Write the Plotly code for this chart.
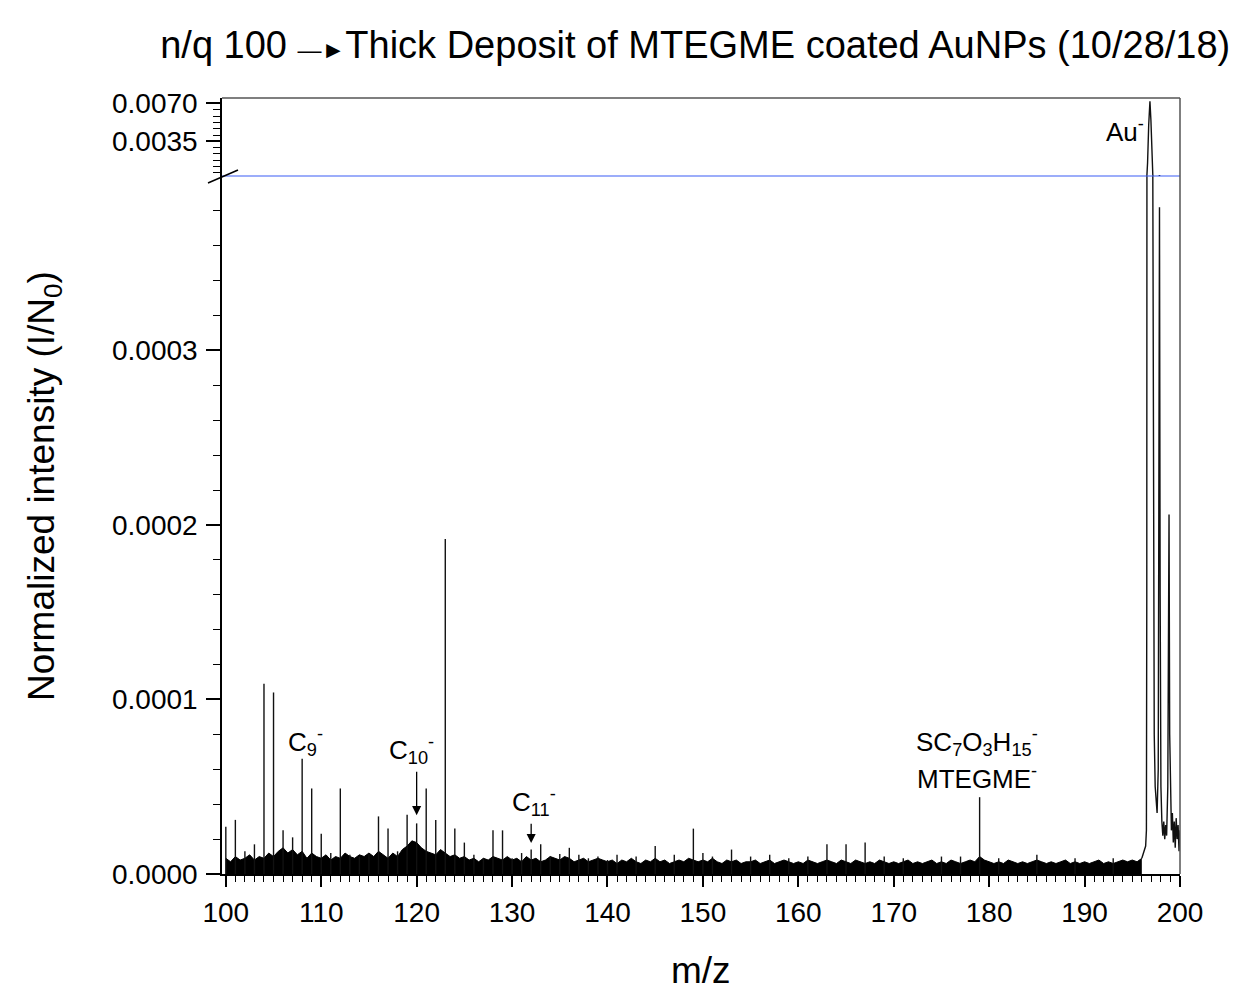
import plotly.graph_objects as go

# ---------------- data ----------------
# discrete peaks (m/z, normalized intensity)
stick_mz = [100, 101, 102, 103, 104, 105, 106, 107, 108, 109, 110, 111, 112, 113, 114,
            115, 116, 117, 118, 119, 120, 121, 122, 123, 124, 125, 126, 127, 128, 129,
            130, 131, 132, 133, 134, 135, 136, 137, 138, 139, 140, 141, 143, 145, 147,
            149, 150, 151, 153, 155, 157, 159, 161, 163, 165, 167, 169, 171, 175, 177,
            179, 181, 185, 189, 193]
stick_int = [2.7e-5, 3.1e-5, 1.3e-5, 1.7e-5, 1.09e-4, 1.04e-4, 2.5e-5, 2.1e-5, 6.6e-5, 4.9e-5,
             2.3e-5, 1.2e-5, 4.9e-5, 1.1e-5, 1.0e-5, 1.2e-5, 3.3e-5, 2.6e-5, 1.3e-5, 3.4e-5,
             2.9e-5, 4.9e-5, 3.1e-5, 1.92e-4, 2.6e-5, 1.8e-5, 1.1e-5, 9e-6, 2.5e-5, 2.5e-5,
             9e-6, 1.2e-5, 1.4e-5, 1.7e-5, 1.0e-5, 1.15e-5, 1.5e-5, 1.1e-5, 9e-6, 1.0e-5,
             8e-6, 1.1e-5, 1.0e-5, 1.6e-5, 1.1e-5, 2.6e-5, 1.2e-5, 1.0e-5, 1.4e-5, 1.0e-5,
             1.1e-5, 9e-6, 1.0e-5, 1.7e-5, 1.7e-5, 1.8e-5, 1.0e-5, 9e-6, 1.0e-5, 1.0e-5,
             4.4e-5, 9e-6, 1.1e-5, 9e-6, 9e-6]

# baseline noise envelope, every 0.5 m/z from 100.0 to 196.0 (units of 1e-6)
noise_start_mz = 100.0
noise_step_mz = 0.5
noise_top_1e6 = [9, 7, 10, 8, 9, 11, 8, 10, 9, 12,
                 10, 13, 15, 12, 14, 11, 13, 9, 12, 10,
                 9, 11, 8, 10, 9, 12, 10, 9, 11, 10,
                 12, 10, 13, 11, 9, 12, 10, 14, 16, 19,
                 18, 15, 13, 12, 11, 14, 12, 10, 11, 9,
                 10, 8, 9, 7, 9, 8, 10, 9, 8, 10,
                 8, 9, 7, 10, 8, 9, 7, 8, 10, 9,
                 8, 10, 9, 7, 8, 9, 7, 8, 9, 8,
                 7, 8, 6, 8, 7, 9, 7, 6, 8, 7,
                 9, 7, 8, 6, 7, 8, 7, 9, 8, 7,
                 8, 7, 9, 7, 6, 8, 7, 8, 6, 7,
                 7, 8, 6, 7, 8, 6, 7, 8, 7, 6,
                 7, 6, 8, 7, 6, 7, 8, 7, 6, 8,
                 7, 6, 8, 7, 6, 7, 6, 8, 7, 6,
                 7, 6, 7, 8, 6, 7, 6, 7, 8, 6,
                 7, 6, 8, 7, 6, 7, 8, 7, 10, 8,
                 7, 6, 7, 6, 8, 7, 6, 7, 6, 7,
                 8, 7, 6, 7, 6, 7, 8, 6, 7, 6,
                 7, 6, 7, 8, 6, 7, 6, 7, 8, 7,
                 8, 7, 9]

# Au- region profile
au_mz = [196.00, 196.20, 196.40, 196.48, 196.52, 196.60, 196.72, 196.85, 196.95, 197.05,
         197.15, 197.22, 197.30, 197.40, 197.50, 197.60, 197.72, 197.78, 197.85, 197.92,
         198.00, 198.10, 198.20, 198.30, 198.40, 198.50, 198.60, 198.72, 198.78, 198.85,
         198.92, 199.00, 199.10, 199.20, 199.30, 199.40, 199.50, 199.60, 199.70, 199.80,
         199.90, 200.00]
au_int = [9e-6, 1.2e-5, 1.6e-5, 2.5e-5, 1.6e-4, 1.5e-3, 5.0e-3, 7.2e-3, 5.5e-3, 2.0e-3,
          4.0e-4, 1.0e-4, 8.0e-5, 5.0e-5, 4.0e-5, 3.5e-5, 6.0e-5, 1.6e-4, 3.82e-4, 1.6e-4,
          5.0e-5, 3.0e-5, 2.2e-5, 3.0e-5, 2.0e-5, 2.8e-5, 2.2e-5, 5.0e-5, 1.2e-4, 2.06e-4,
          8.0e-5, 4.0e-5, 2.5e-5, 3.5e-5, 1.8e-5, 3.0e-5, 1.5e-5, 3.2e-5, 2.0e-5, 2.8e-5,
          1.3e-5, 2.5e-5]

x_ticks = [100, 110, 120, 130, 140, 150, 160, 170, 180, 190, 200]
y_low_ticks = [0.0, 0.0001, 0.0002, 0.0003]
y_high_ticks = [0.0035, 0.0070]

# ---------------- build ----------------
FONT = "Liberation Sans, Arial, sans-serif"
BREAK = (874 - 176) / 776.0

noise_mz = [noise_start_mz + noise_step_mz * i for i in range(len(noise_top_1e6))]
noise_val = [v * 1e-6 for v in noise_top_1e6]

sx, sy = [], []
for m, h in zip(stick_mz, stick_int):
    sx += [m, m, None]
    sy += [0, h, None]

fig = go.Figure()
fig.add_trace(go.Scatter(x=noise_mz, y=noise_val, mode="lines", fill="tozeroy",
                         fillcolor="black", line=dict(color="black", width=1),
                         xaxis="x", yaxis="y", hoverinfo="skip"))
fig.add_trace(go.Scatter(x=sx, y=sy, mode="lines", line=dict(color="#111", width=1.4),
                         xaxis="x", yaxis="y", hoverinfo="skip"))
fig.add_trace(go.Scatter(x=au_mz, y=au_int, mode="lines", line=dict(color="#111", width=1.4),
                         xaxis="x", yaxis="y"))
fig.add_trace(go.Scatter(x=au_mz, y=au_int, mode="lines", line=dict(color="#111", width=1.4),
                         xaxis="x", yaxis="y2"))

tickfont = dict(family=FONT, size=28, color="black")

fig.update_layout(
    width=1243, height=1005,
    margin=dict(l=222, r=63, t=98, b=131, autoexpand=False),
    paper_bgcolor="white", plot_bgcolor="white",
    showlegend=False,
    title=dict(text="n/q 100 <span style='font-size:24px'>—►</span>Thick Deposit of MTEGME coated AuNPs (10/28/18)",
               font=dict(family=FONT, size=38, color="black"),
               x=0.494, xref="paper", xanchor="center",
               y=1 - 45 / 1005, yref="container", yanchor="middle"),
    xaxis=dict(range=[99.6, 200], tickvals=x_ticks, ticks="outside", ticklen=11,
               tickwidth=1.5, tickcolor="black", showline=True, linecolor="black",
               linewidth=1.5, showgrid=False, zeroline=False, tickfont=tickfont,
               ticklabelstandoff=2,
               minor=dict(tickmode="linear", tick0=100, dtick=1, ticks="outside",
                          ticklen=6, tickwidth=1.2, tickcolor="black", showgrid=False),
               anchor="y"),
    yaxis=dict(domain=[0, BREAK], range=[0, 0.0003999], tickvals=y_low_ticks,
               tickformat=".4f", ticks="outside", ticklen=14, tickwidth=1.5,
               tickcolor="black", showline=True, linecolor="black", linewidth=1.5,
               showgrid=False, zeroline=False, tickfont=tickfont, ticklabelstandoff=3,
               minor=dict(tickmode="linear", tick0=0, dtick=0.00002, ticks="outside",
                          ticklen=7, tickwidth=1.2, tickcolor="black", showgrid=False),
               anchor="x"),
    yaxis2=dict(domain=[BREAK, 1], range=[0.0003, 0.0075], tickvals=y_high_ticks,
                tickformat=".4f", ticks="outside", ticklen=14, tickwidth=1.5,
                tickcolor="black", showline=True, linecolor="black", linewidth=1.5,
                showgrid=False, zeroline=False, tickfont=tickfont, ticklabelstandoff=3,
                minor=dict(tickmode="linear", tick0=0, dtick=0.0035 / 6, ticks="outside",
                           ticklen=7, tickwidth=1.2, tickcolor="black", showgrid=False),
                anchor="x"),
)

shapes = [
    dict(type="line", xref="paper", yref="paper", x0=0, x1=1, y0=BREAK, y1=BREAK,
         line=dict(color="#3b5cf5", width=1.2)),
    dict(type="line", xref="paper", yref="paper", x0=1, x1=1, y0=0, y1=1,
         line=dict(color="#555", width=1.5)),
    dict(type="line", xref="paper", yref="paper", x0=0, x1=1, y0=1, y1=1,
         line=dict(color="#555", width=1.5)),
    dict(type="line", xref="paper", yref="paper", xsizemode="pixel", ysizemode="pixel",
         xanchor=0, yanchor=BREAK, x0=-14, x1=16, y0=-7, y1=6,
         line=dict(color="black", width=1.5)),
]
fig.update_layout(shapes=shapes)

afont = dict(family=FONT, size=26, color="black")
ann = [
    dict(text="Au<sup>-</sup>", x=194.2, y=0.0045, xref="x", yref="y2", showarrow=False, font=afont),
    dict(text="C<sub>9</sub><sup>-</sup>", x=108.3, y=0.0000754, xref="x", yref="y", showarrow=False, font=afont),
    dict(text="C<sub>10</sub><sup>-</sup>", x=119.5, y=0.0000709, xref="x", yref="y", showarrow=False, font=afont),
    dict(text="C<sub>11</sub><sup>-</sup>", x=132.3, y=0.0000411, xref="x", yref="y", showarrow=False, font=afont),
    dict(text="SC<sub>7</sub>O<sub>3</sub>H<sub>15</sub><sup>-</sup>", x=178.7, y=0.0000754, xref="x", yref="y",
         showarrow=False, font=afont),
    dict(text="MTEGME<sup>-</sup>", x=178.7, y=0.0000554, xref="x", yref="y", showarrow=False, font=afont),
    dict(text="", x=120.0, y=0.0000337, ax=120.0, ay=0.0000594, xref="x", yref="y", axref="x", ayref="y",
         showarrow=True, arrowhead=2, arrowsize=1.4, arrowwidth=1.3, arrowcolor="black"),
    dict(text="", x=132.0, y=0.0000177, ax=132.0, ay=0.0000297, xref="x", yref="y", axref="x", ayref="y",
         showarrow=True, arrowhead=2, arrowsize=1.4, arrowwidth=1.3, arrowcolor="black"),
    dict(text="Normalized intensity (I/N<sub>0</sub>)", x=0, y=0.5, xref="paper", yref="paper",
         xanchor="center", yanchor="middle", xshift=-178, textangle=-90, showarrow=False,
         font=dict(family=FONT, size=37, color="black")),
    dict(text="m/z", x=0.5, y=0, xref="paper", yref="paper", yshift=-96, yanchor="middle",
         showarrow=False, font=dict(family=FONT, size=37, color="black")),
]
fig.update_layout(annotations=ann)

fig.write_html("out.html")
